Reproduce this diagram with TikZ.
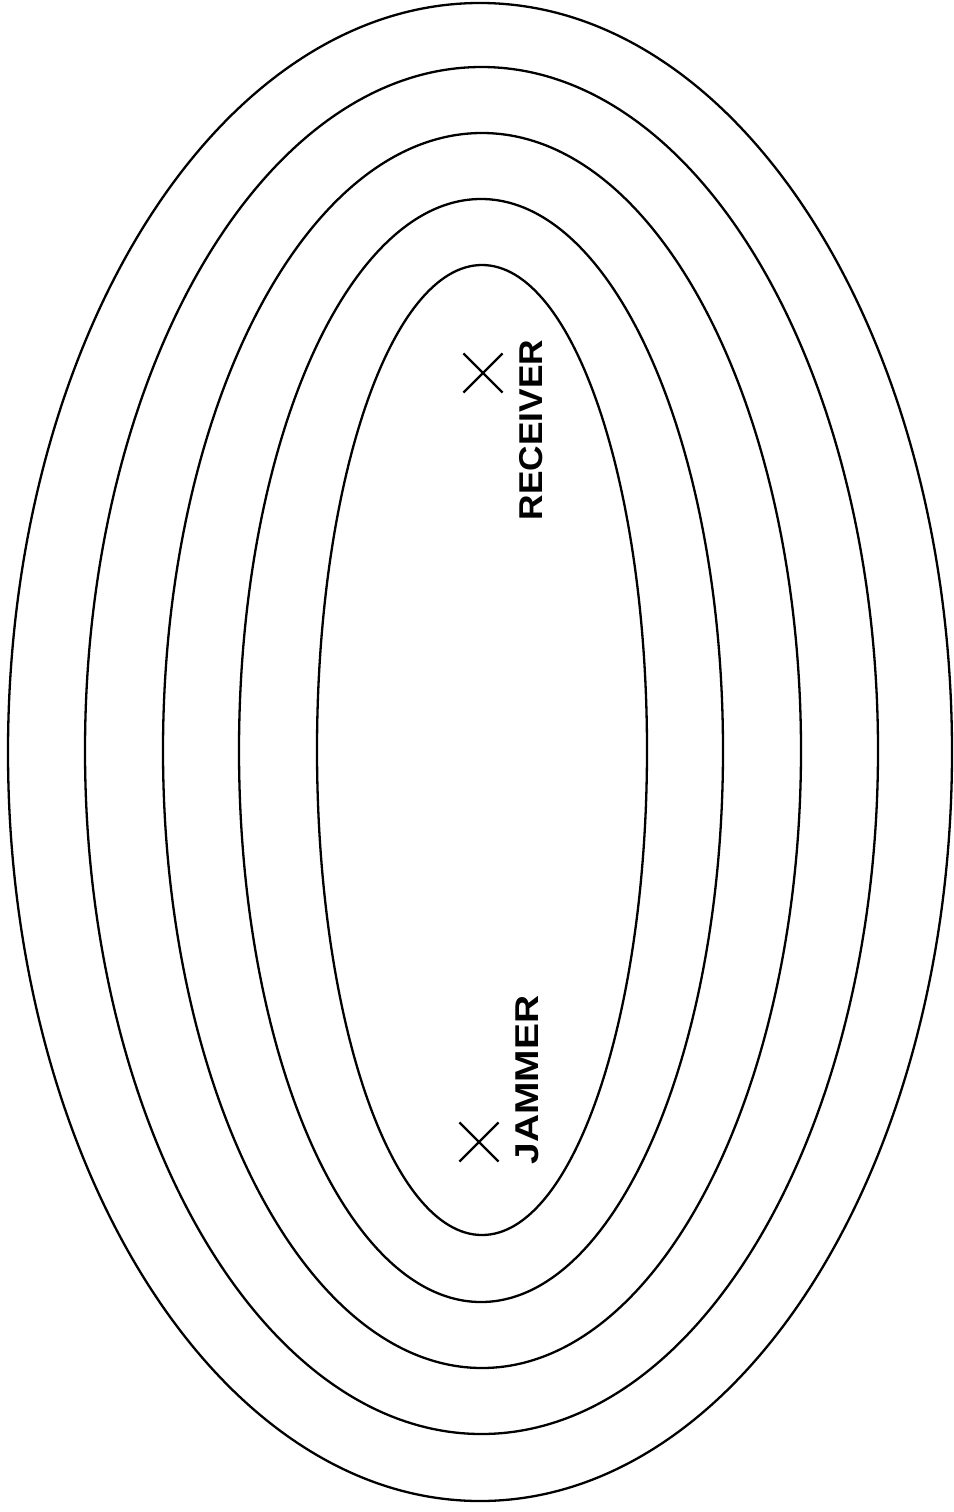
\documentclass[tikz,border=0pt]{standalone}
\usepackage{fontspec}
\setmainfont{Liberation Sans}
\usetikzlibrary{shapes.misc}
\begin{document}
\begin{tikzpicture}[x=1pt,y=-1pt,
  contour/.style={draw=black, line width=2.3pt},
  xmark/.style={cross out, draw=black, line width=2.2pt, minimum size=37pt, inner sep=0pt},
  lbl/.style={font=\fontsize{33}{33}\selectfont\bfseries, rotate=90, inner sep=0pt}]
\useasboundingbox (0,0) rectangle (953,1512);
\coordinate (c1) at (480,752);
\coordinate (c2) at (481.5,750.5);
\coordinate (c3) at (482,750.5);
\coordinate (c4) at (481,750.5);
\coordinate (c5) at (482,750);
\draw[contour] (c1) ellipse [x radius=472pt, y radius=749pt];
\draw[contour] (c2) ellipse [x radius=396.5pt, y radius=683.5pt];
\draw[contour] (c3) ellipse [x radius=319pt, y radius=617.5pt];
\draw[contour] (c4) ellipse [x radius=242pt, y radius=551.5pt];
\draw[contour] (c5) ellipse [x radius=165pt, y radius=485pt];
\node[xmark] (rx) at (483,373) {};
\node[xmark] (jx) at (479,1142) {};
\node[lbl] (rl) at (531,430) {\scalebox{1.07}[1]{RECEIVER}};
\node[lbl] (jl) at (527,1080) {\scalebox{1.18}[1]{JAMMER}};
\end{tikzpicture}
\end{document}
